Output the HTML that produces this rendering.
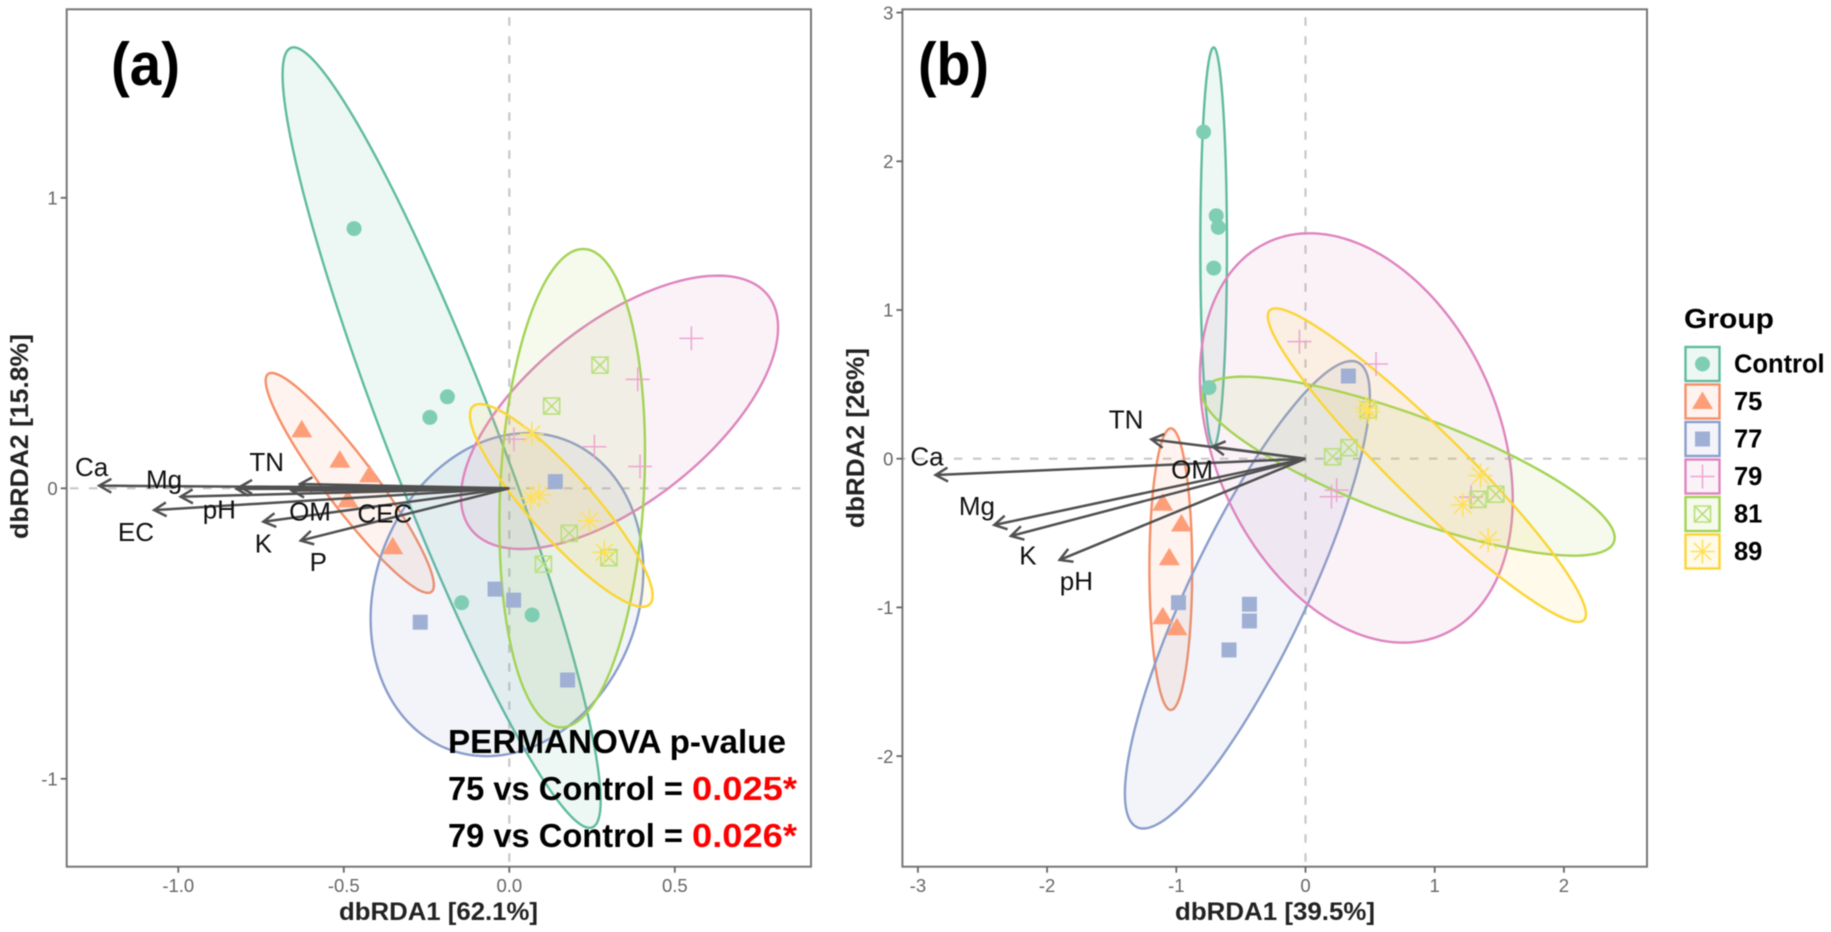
<!DOCTYPE html>
<html lang="en">
<head>
<meta charset="utf-8">
<title>dbRDA ordination panels</title>
<style>
html,body{margin:0;padding:0;background:#fff;width:1831px;height:932px;overflow:hidden}
svg{display:block;filter:blur(.6px)}
text{font-family:"Liberation Sans",Arial,sans-serif}
.tick{font-size:18.5px;fill:#666}
.axt{font-size:25px;font-weight:700;fill:#222}
.vec{font-size:26px;fill:#111}
.note{font-size:33px;font-weight:700;fill:#000}
.red{fill:#f00}
</style>
</head>
<body>
<svg id="fig" xmlns="http://www.w3.org/2000/svg" width="1831" height="932" viewBox="0 0 1831 932">
  <rect width="1831" height="932" fill="#fff"/>
  <g id="panelA"></g>
  <g id="panelB"></g>

  <text x="111" y="85" font-size="60" font-weight="700" fill="#000" textLength="69" lengthAdjust="spacingAndGlyphs">(a)</text>
  <text x="918" y="85" font-size="60" font-weight="700" fill="#000" textLength="71" lengthAdjust="spacingAndGlyphs">(b)</text>

  <text class="axt" x="339" y="920" textLength="199" lengthAdjust="spacingAndGlyphs">dbRDA1 [62.1%]</text>
  <text class="axt" x="1175" y="920" textLength="200" lengthAdjust="spacingAndGlyphs">dbRDA1 [39.5%]</text>
  <text class="axt" transform="translate(28,539) rotate(-90)" textLength="205" lengthAdjust="spacingAndGlyphs">dbRDA2 [15.8%]</text>
  <text class="axt" transform="translate(864,528) rotate(-90)" textLength="180" lengthAdjust="spacingAndGlyphs">dbRDA2 [26%]</text>

  <g>
    <text class="note" x="448" y="753" textLength="338" lengthAdjust="spacingAndGlyphs">PERMANOVA p-value</text>
    <text class="note" x="448" y="800" textLength="235" lengthAdjust="spacingAndGlyphs">75 vs Control =</text>
    <text class="note red" x="692" y="800" textLength="105" lengthAdjust="spacingAndGlyphs">0.025*</text>
    <text class="note" x="448" y="847" textLength="235" lengthAdjust="spacingAndGlyphs">79 vs Control =</text>
    <text class="note red" x="692" y="847" textLength="105" lengthAdjust="spacingAndGlyphs">0.026*</text>
  </g>

  <g id="legend">
    <text x="1684" y="328" font-size="28" font-weight="700" fill="#000" textLength="90" lengthAdjust="spacingAndGlyphs">Group</text>
  </g>
</svg>

<script>
// ---- shared ----
const groups = ['Control', '75', '77', '79', '81', '89'];
const lineColors = ['#5fbb9f', '#f58f68', '#8a9ecb', '#de85bf', '#a3d355', '#fbd534'];
const markColors = ['#7fceb4', '#fd9e79', '#a0b0d4', '#eca5d0', '#b9e07c', '#ffe05a'];

// ---- panel (a) data ----
const aXTicks = [-1.0, -0.5, 0.0, 0.5];
const aXTickLabels = ['-1.0', '-0.5', '0.0', '0.5'];
const aYTicks = [1, 0, -1];
const aYTickLabels = ['1', '0', '-1'];
const aScoreX = [
  [-0.469, -0.187, -0.240, -0.144, 0.069],
  [-0.627, -0.512, -0.422, -0.488, -0.352],
  [0.139, -0.043, 0.013, -0.269, 0.176],
  [0.550, 0.388, 0.257, 0.395, 0.014],
  [0.274, 0.128, 0.181, 0.103, 0.301],
  [0.068, 0.091, 0.242, 0.287, 0.065]
];
const aScoreY = [
  [0.894, 0.315, 0.244, -0.394, -0.436],
  [0.201, 0.097, 0.046, -0.040, -0.201],
  [0.023, -0.347, -0.385, -0.461, -0.660],
  [0.516, 0.375, 0.143, 0.075, 0.169],
  [0.424, 0.283, -0.155, -0.261, -0.239],
  [0.187, -0.023, -0.112, -0.220, -0.034]
];
const aEllXMin = [-0.685, -0.736, -0.419, -0.146, -0.030, -0.119];
const aEllXMax = [0.276, -0.228, 0.405, 0.812, 0.410, 0.433];
const aEllYMin = [-1.169, -0.360, -0.922, -0.209, -0.823, -0.408];
const aEllYMax = [1.518, 0.397, 0.190, 0.732, 0.824, 0.290];
const aEllRho = [-0.93, -0.93, 0.15, 0.62, 0.15, -0.89];
const aVecNames = ['Ca', 'Mg', 'EC', 'TN', 'pH', 'OM', 'CEC', 'K', 'P'];
const aVecX = [-1.239, -0.993, -1.073, -0.814, -0.824, -0.657, -0.632, -0.743, -0.630];
const aVecY = [0.009, -0.029, -0.075, 0.005, -0.002, -0.008, 0.015, -0.115, -0.180];
const aVecLabelX = [-1.262, -1.043, -1.128, -0.733, -0.876, -0.602, -0.376, -0.743, -0.577];
const aVecLabelY = [0.074, 0.031, -0.149, 0.092, -0.072, -0.078, -0.086, -0.189, -0.253];

// ---- panel (b) data ----
const bXTicks = [-3, -2, -1, 0, 1, 2];
const bXTickLabels = ['-3', '-2', '-1', '0', '1', '2'];
const bYTicks = [3, 2, 1, 0, -1, -2];
const bYTickLabels = ['3', '2', '1', '0', '-1', '-2'];
const bScoreX = [
  [-0.789, -0.691, -0.675, -0.710, -0.747],
  [-1.105, -0.960, -1.054, -1.105, -0.995],
  [0.332, -0.983, -0.434, -0.434, -0.592],
  [-0.047, 0.546, 1.281, 0.241, 0.201],
  [0.486, 0.336, 0.210, 1.335, 1.473],
  [0.486, 1.354, 1.217, 1.414, 0.470]
];
const bScoreY = [
  [2.197, 1.634, 1.556, 1.282, 0.478],
  [-0.300, -0.439, -0.666, -1.063, -1.137],
  [0.556, -0.968, -0.979, -1.091, -1.286],
  [0.787, 0.637, -0.258, -0.211, -0.256],
  [0.328, 0.074, 0.013, -0.273, -0.239],
  [0.316, -0.114, -0.311, -0.547, 0.340]
];
const bEllXMin = [-0.814, -1.208, -1.398, -0.817, -0.798, -0.292];
const bEllXMax = [-0.608, -0.877, 0.498, 1.604, 2.393, 2.171];
const bEllYMin = [0.085, -1.690, -2.487, -1.237, -0.652, -1.098];
const bEllYMax = [2.766, 0.204, 0.657, 1.516, 0.552, 1.011];
const bEllRho = [0.0, 0.0, 0.85, -0.30, -0.80, -0.95];
const bVecNames = ['TN', 'OM', 'Ca', 'Mg', 'K', 'pH'];
const bVecX = [-1.193, -0.718, -2.863, -2.409, -2.280, -1.903];
const bVecY = [0.130, 0.081, -0.110, -0.446, -0.520, -0.681];
const bVecLabelX = [-1.389, -0.878, -2.930, -2.543, -2.148, -1.773];
const bVecLabelY = [0.265, -0.071, 0.018, -0.316, -0.648, -0.820];

const NS = 'http://www.w3.org/2000/svg';
function make(tag, attrs, parent) {
  const n = document.createElementNS(NS, tag);
  for (const k in attrs) n.setAttribute(k, attrs[k]);
  parent.appendChild(n);
  return n;
}

function drawShape(g, shape, px, py, color) {
  if (shape === 0) {
    make('circle', {cx: px, cy: py, r: 7.5, fill: color}, g);
  } else if (shape === 1) {
    make('path', {d: `M${px} ${py - 10}L${px + 10.5} ${py + 7.5}L${px - 10.5} ${py + 7.5}Z`, fill: color}, g);
  } else if (shape === 2) {
    make('rect', {x: px - 7.5, y: py - 7.5, width: 15, height: 15, fill: color}, g);
  } else if (shape === 3) {
    make('path', {d: `M${px - 12} ${py}H${px + 12}M${px} ${py - 12}V${py + 12}`, stroke: color, 'stroke-width': 1.5, fill: 'none'}, g);
  } else if (shape === 4) {
    make('path', {d: `M${px - 8} ${py - 8}H${px + 8}V${py + 8}H${px - 8}ZM${px - 8} ${py - 8}L${px + 8} ${py + 8}M${px + 8} ${py - 8}L${px - 8} ${py + 8}`, stroke: color, 'stroke-width': 1.6, fill: 'none'}, g);
  } else {
    const r = 12, q = r * 0.707;
    make('path', {d: `M${px - r} ${py}H${px + r}M${px} ${py - r}V${py + r}M${px - q} ${py - q}L${px + q} ${py + q}M${px + q} ${py - q}L${px - q} ${py + q}`, stroke: color, 'stroke-width': 1.5, fill: 'none'}, g);
  }
}

function drawPanel(cfg) {
  const root = document.getElementById(cfg.id);
  const sx = v => cfg.x0 + v * cfg.kx;
  const sy = v => cfg.y0 - v * cfg.ky;

  // reference lines
  const hline = make('line', {x1: cfg.left, x2: cfg.right, y1: sy(0), y2: sy(0), stroke: '#c8c8c8', 'stroke-width': 2.2, 'stroke-dasharray': '8.5 10.5', 'stroke-dashoffset': cfg.hDash}, root);
  
  
  const vline = make('line', {x1: sx(0), x2: sx(0), y1: cfg.top, y2: cfg.bottom, stroke: '#c8c8c8', 'stroke-width': 2.2, 'stroke-dasharray': '8.5 10.5', 'stroke-dashoffset': 11}, root);
  
  

  // ellipses
  groups.forEach((grp, i) => {
    const cx = (cfg.ellXMin[i] + cfg.ellXMax[i]) / 2, rx = (cfg.ellXMax[i] - cfg.ellXMin[i]) / 2;
    const cy = (cfg.ellYMin[i] + cfg.ellYMax[i]) / 2, ry = (cfg.ellYMax[i] - cfg.ellYMin[i]) / 2;
    const phi = Math.acos(cfg.ellRho[i]);
    let d = '';
    for (let k = 0; k < 160; k++) {
      const t = k / 160 * 2 * Math.PI;
      d += (k ? 'L' : 'M') + sx(cx + rx * Math.cos(t)).toFixed(2) + ' ' + sy(cy + ry * Math.cos(t + phi)).toFixed(2);
    }
    const e = make('path', {d: d + 'Z', fill: lineColors[i], 'fill-opacity': 0.11, stroke: lineColors[i], 'stroke-width': 2.4}, root);
    
    
  });

  // points
  groups.forEach((grp, i) => {
    cfg.scoreX[i].forEach((v, j) => {
      const g = make('g', {}, root);
      
      
      drawShape(g, i, sx(v), sy(cfg.scoreY[i][j]), markColors[i]);
    });
  });

  // frame
  const frame = make('rect', {x: cfg.left, y: cfg.top, width: cfg.right - cfg.left, height: cfg.bottom - cfg.top, fill: 'none', stroke: '#777', 'stroke-width': 2}, root);
  
  

  // arrows
  const ox = sx(0), oy = sy(0);
  cfg.vecNames.forEach((nm, i) => {
    const tx = sx(cfg.vecX[i]), ty = sy(cfg.vecY[i]);
    const a = Math.atan2(oy - ty, ox - tx), len = 14, sp = 0.52;
    const b1x = tx + len * Math.cos(a + sp), b1y = ty + len * Math.sin(a + sp);
    const b2x = tx + len * Math.cos(a - sp), b2y = ty + len * Math.sin(a - sp);
    const ar = make('path', {d: `M${ox} ${oy}L${tx} ${ty}M${b1x} ${b1y}L${tx} ${ty}L${b2x} ${b2y}`, stroke: '#505050', 'stroke-width': 2.5, fill: 'none'}, root);
    
    
  });

  // arrow labels
  cfg.vecNames.forEach((nm, i) => {
    const t = make('text', {class: 'vec', x: sx(cfg.vecLabelX[i]), y: sy(cfg.vecLabelY[i]), dy: '.36em', 'text-anchor': 'middle'}, root);
    
    
    t.textContent = nm;
  });

  // x axis
  cfg.xTicks.forEach((v, i) => {
    const tk = make('line', {x1: sx(v), x2: sx(v), y1: cfg.bottom, y2: cfg.bottom + 6, stroke: '#666', 'stroke-width': 1.8}, root);
    
    
    const lb = make('text', {class: 'tick', x: sx(v), y: 892, 'text-anchor': 'middle'}, root);
    
    
    lb.textContent = cfg.xTickLabels[i];
  });

  // y axis
  cfg.yTicks.forEach((v, i) => {
    const tk = make('line', {x1: cfg.left - 6, x2: cfg.left, y1: sy(v), y2: sy(v), stroke: '#666', 'stroke-width': 1.8}, root);
    
    
    const lb = make('text', {class: 'tick', x: cfg.left - 9, y: sy(v), dy: '.36em', 'text-anchor': 'end'}, root);
    
    
    lb.textContent = cfg.yTickLabels[i];
  });
}

drawPanel({
  id: 'panelA', left: 66.7, right: 811, top: 9.3, bottom: 866.7,
  x0: 509.3, kx: 331, y0: 488.3, ky: 290.5, hDash: 15.7,
  xTicks: aXTicks, xTickLabels: aXTickLabels, yTicks: aYTicks, yTickLabels: aYTickLabels,
  scoreX: aScoreX, scoreY: aScoreY,
  ellXMin: aEllXMin, ellXMax: aEllXMax, ellYMin: aEllYMin, ellYMax: aEllYMax, ellRho: aEllRho,
  vecNames: aVecNames, vecX: aVecX, vecY: aVecY, vecLabelX: aVecLabelX, vecLabelY: aVecLabelY
});
drawPanel({
  id: 'panelB', left: 902.4, right: 1647, top: 9.3, bottom: 866.7,
  x0: 1305.5, kx: 129.2, y0: 458.7, ky: 148.7, hDash: 5.5,
  xTicks: bXTicks, xTickLabels: bXTickLabels, yTicks: bYTicks, yTickLabels: bYTickLabels,
  scoreX: bScoreX, scoreY: bScoreY,
  ellXMin: bEllXMin, ellXMax: bEllXMax, ellYMin: bEllYMin, ellYMax: bEllYMax, ellRho: bEllRho,
  vecNames: bVecNames, vecX: bVecX, vecY: bVecY, vecLabelX: bVecLabelX, vecLabelY: bVecLabelY
});

// legend
const legendRoot = document.getElementById('legend');
groups.forEach((grp, i) => {
  const top = 347 + i * 37.5;
  const entry = make('g', {}, legendRoot);
  
  
  const box = make('rect', {x: 1685.5, y: top, width: 34, height: 34, fill: lineColors[i], 'fill-opacity': 0.11, stroke: lineColors[i], 'stroke-width': 2.4}, entry);
  
  
  drawShape(entry, i, 1702.5, top + 17, markColors[i]);
  const lab = make('text', {x: 1734, y: top + 25.5, 'font-size': 25.5, 'font-weight': 700, fill: '#000'}, entry);
  
  
  lab.textContent = grp;
});
</script>
</body>
</html>
